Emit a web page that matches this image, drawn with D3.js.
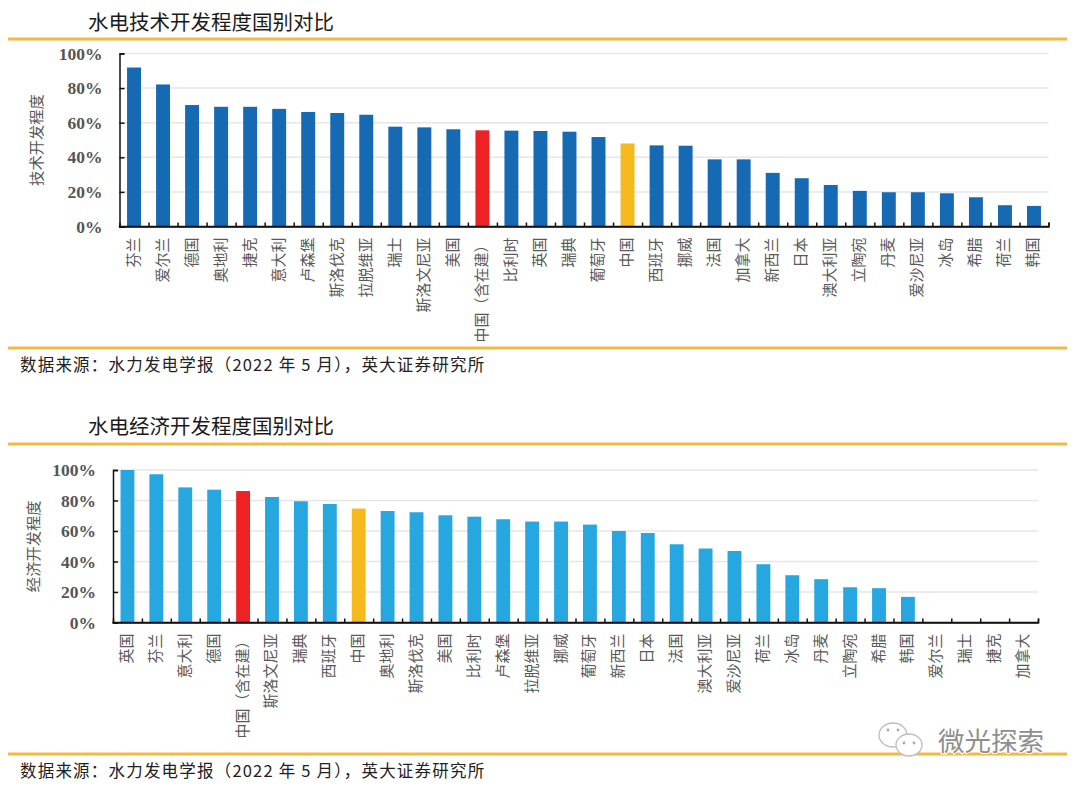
<!DOCTYPE html>
<html lang="zh">
<head>
<meta charset="utf-8">
<script src="https://cdn.jsdelivr.net/npm/d3@7"></script>
<style>
html,body{margin:0;padding:0;background:#fff}
svg{display:block}
text{font-family:"Noto Sans CJK SC","Noto Sans",sans-serif}
</style>
</head>
<body>
<svg id="c" width="1080" height="789"></svg>
<script>
const techTitle = "水电技术开发程度国别对比";
const techAxisTitle = "技术开发程度";
const techCountries = ["芬兰","爱尔兰","德国","奥地利","捷克","意大利","卢森堡","斯洛伐克","拉脱维亚","瑞士","斯洛文尼亚","美国","中国（含在建）","比利时","英国","瑞典","葡萄牙","中国","西班牙","挪威","法国","加拿大","新西兰","日本","澳大利亚","立陶宛","丹麦","爱沙尼亚","冰岛","希腊","荷兰","韩国"];
const techValues = [91.9,82.1,70.2,69.2,69.2,68,66.2,65.6,64.6,57.7,57.3,56.2,55.6,55.4,55.2,54.8,51.7,48,46.9,46.7,38.8,38.8,31,27.9,24,20.6,19.8,19.8,19.2,16.9,12.3,11.9];
const econTitle = "水电经济开发程度国别对比";
const econAxisTitle = "经济开发程度";
const econCountries = ["英国","芬兰","意大利","德国","中国（含在建）","斯洛文尼亚","瑞典","西班牙","中国","奥地利","斯洛伐克","美国","比利时","卢森堡","拉脱维亚","挪威","葡萄牙","新西兰","日本","法国","澳大利亚","爱沙尼亚","荷兰","冰岛","丹麦","立陶宛","希腊","韩国","爱尔兰","瑞士","捷克","加拿大"];
const econValues = [100,97.2,88.6,87.1,86.2,82.3,79.5,77.7,74.7,73.1,72.3,70.3,69.4,67.7,66.2,66.2,64.2,60,58.7,51.3,48.5,46.9,38.2,31,28.4,23.1,22.5,16.8,0,0,0,0];
const yTicks = [0,20,40,60,80,100];
const sourceText = "数据来源：水力发电学报（2022 年 5 月），英大证券研究所";
const watermarkText = "微光探索";

const svg = d3.select("#c");
const GOLD = "#f5b942";

function rule(y){
  svg.append("rect").attr("x",8).attr("y",y-1.5).attr("width",1059).attr("height",3).attr("fill",GOLD);
}

function panel(o){
  const x = d3.scaleBand().domain(o.cats).range([o.x0,o.x1]).paddingInner(0.52).paddingOuter(0.26);
  const y = d3.scaleLinear().domain([0,100]).range([o.y0,o.y1]);
  const g = svg.append("g");

  g.append("text").attr("x",88).attr("y",o.titleY).attr("font-size",20.5).attr("fill","#1a1a1a").text(o.title);

  g.append("g").selectAll("line").data(yTicks.slice(1)).join("line")
    .attr("x1",o.x0).attr("x2",o.x1).attr("y1",d=>y(d)).attr("y2",d=>y(d))
    .attr("stroke","#e6e6e6").attr("stroke-width",1.5);

  g.append("g").selectAll("rect").data(o.vals).join("rect")
    .attr("x",(d,i)=>x(o.cats[i])).attr("width",x.bandwidth())
    .attr("y",d=>y(d)).attr("height",d=>y(0)-y(d))
    .attr("fill",(d,i)=>o.cats[i]==="中国"?"#f5bb1e":o.cats[i]==="中国（含在建）"?"#ee2224":o.color);

  const ya = g.append("g").attr("transform",`translate(${o.x0},0)`)
    .call(d3.axisLeft(y).tickValues(yTicks).tickSize(-5).tickPadding(17).tickFormat(d=>d+"%"));
  ya.select(".domain").attr("stroke","#111").attr("stroke-width",1.5);
  ya.selectAll(".tick line").attr("stroke","#111").attr("stroke-width",1.5);
  ya.selectAll("text").style("font-family",'"Liberation Serif",serif').attr("font-size",17.5)
    .attr("font-weight","bold").attr("fill","#555");

  const boundary = d3.scaleLinear().domain([0,o.cats.length]).range([o.x0,o.x1]);
  const xa = g.append("g").attr("transform",`translate(0,${o.y0})`)
    .call(d3.axisBottom(boundary).tickValues(d3.range(1,o.cats.length+1)).tickSize(-4).tickFormat(""));
  xa.select(".domain").attr("stroke","#111").attr("stroke-width",1.5);
  xa.selectAll(".tick line").attr("stroke","#111").attr("stroke-width",1.5);
  g.append("line").attr("x1",o.x0-0.75).attr("x2",o.x1).attr("y1",o.y0).attr("y2",o.y0).attr("stroke","#111").attr("stroke-width",1.5);

  g.append("g").selectAll("text").data(o.cats).join("text")
    .attr("transform",d=>`translate(${x(d)+x.bandwidth()/2+4.5},${o.y0+o.labelGap}) rotate(-90)`)
    .attr("text-anchor","end").attr("font-size",15).attr("fill","#595959").text(d=>d);

  g.append("text").attr("transform",`translate(${o.axisTitleX},${(o.y0+o.y1)/2+o.axisTitleDy}) rotate(-90)`)
    .attr("text-anchor","middle").attr("font-size",15.3).attr("fill","#595959").text(o.axisTitle);

  g.append("text").attr("x",20).attr("y",o.srcY).attr("font-size",16.5).attr("letter-spacing",1.2).attr("fill","#222").text(sourceText);
}

rule(39); rule(348); rule(444); rule(754);

panel({title:techTitle,titleY:30,axisTitle:techAxisTitle,axisTitleX:42,axisTitleDy:0,cats:techCountries,vals:techValues,
  x0:119.5,x1:1048.5,y0:226.5,y1:53.5,color:"#166ab3",labelGap:11,srcY:371});
panel({title:econTitle,titleY:434,axisTitle:econAxisTitle,axisTitleX:39,axisTitleDy:0,cats:econCountries,vals:econValues,
  x0:113,x1:1038,y0:622.5,y1:470,color:"#27a7e0",labelGap:11,srcY:777});

// watermark
const wm = svg.append("g");
const bubble = (cx,cy,rx,ry)=>wm.append("ellipse").attr("cx",cx).attr("cy",cy).attr("rx",rx).attr("ry",ry)
  .attr("fill","#fff").attr("stroke","#bdbdbd").attr("stroke-width",1.3);
bubble(893,735,14,12); bubble(909,745,13,11);
[[888,730],[898,730],[904,743],[914,743]].forEach(p=>wm.append("circle").attr("cx",p[0]).attr("cy",p[1]).attr("r",1.4).attr("fill","#aaa"));
wm.append("text").attr("x",938).attr("y",751).attr("font-size",26.5).attr("fill","#8f8f8f")
  .attr("stroke","#fff").attr("stroke-width",2).attr("paint-order","stroke").text(watermarkText);
</script>
</body>
</html>
